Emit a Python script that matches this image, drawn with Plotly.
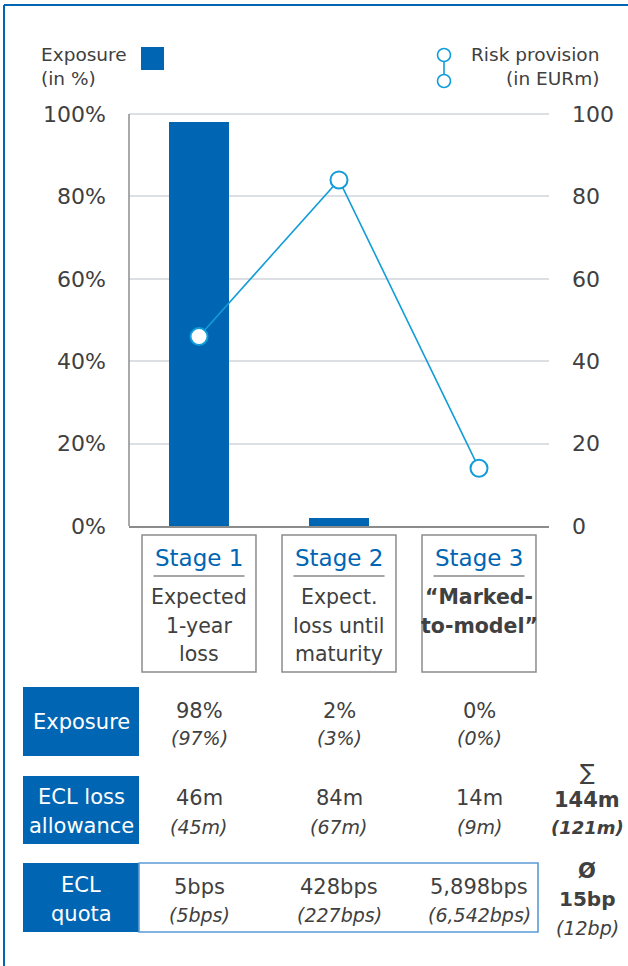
import plotly.graph_objects as go

# ---------------- data ----------------
categories = ["Stage 1", "Stage 2", "Stage 3"]
exposure_pct = [98, 2, 0]
risk_provision = [46, 84, 14]
y_ticks = [0, 20, 40, 60, 80, 100]
y_ticktext_left = ["0%", "20%", "40%", "60%", "80%", "100%"]
y_ticktext_right = ["0", "20", "40", "60", "80", "100"]

stage_desc = [["Expected", "1-year", "loss"],
              ["Expect.", "loss until", "maturity"],
              ["“Marked-", "to-model”"]]
stage_bold = [False, False, True]

row_labels = [["Exposure"], ["ECL loss", "allowance"], ["ECL", "quota"]]
exposure_txt = ["98%", "2%", "0%"]
exposure_prev = ["(97%)", "(3%)", "(0%)"]
ecl_txt = ["46m", "84m", "14m"]
ecl_prev = ["(45m)", "(67m)", "(9m)"]
quota_txt = ["5bps", "428bps", "5,898bps"]
quota_prev = ["(5bps)", "(227bps)", "(6,542bps)"]
ecl_total = ["∑", "144m", "(121m)"]
quota_avg = ["Ø", "15bp", "(12bp)"]

# ---------------- style ----------------
W, H = 628, 966
FONT = "DejaVu Sans"
BLUE = "#0066b3"
LBLUE = "#129dd8"
TXT = "#404040"
GRID = "#dcdfe4"
AXIS = "#8c8c8c"
Y_MAX = 101          # a little head-room so the 100% gridline is drawn
PLOT_BOTTOM, PLOT_100 = 526, 114
plot_top = PLOT_BOTTOM - (PLOT_BOTTOM - PLOT_100) * Y_MAX / 100


def px(x):
    return x / W


def py(y):
    return 1 - y / H


fig = go.Figure()
fig.add_trace(go.Bar(x=categories, y=exposure_pct, marker=dict(color=BLUE, line=dict(width=0)),
                     width=0.435, yaxis="y"))
fig.add_trace(go.Scatter(x=categories, y=risk_provision, yaxis="y2", mode="lines+markers",
                         line=dict(color=LBLUE, width=1.6),
                         marker=dict(symbol="circle", size=17, color="white",
                                     line=dict(color=LBLUE, width=2)),
                         cliponaxis=False))

shapes = []
ann = []


def text(x, y, t, size, color=TXT, xref="paper", xanchor="center", bold=False, italic=False, align="center"):
    if bold:
        t = "<b>" + t + "</b>"
    if italic:
        t = "<i>" + t + "</i>"
    ann.append(dict(x=x, y=py(y), xref=xref, yref="paper", text=t, showarrow=False,
                    xanchor=xanchor, yanchor="middle", align=align,
                    font=dict(family=FONT, size=size, color=color)))


# outer frame
shapes.append(dict(type="line", xref="paper", yref="paper", x0=px(4), x1=1.02, y0=py(5), y1=py(5),
                   line=dict(color=BLUE, width=2)))
shapes.append(dict(type="line", xref="paper", yref="paper", x0=px(4), x1=px(4), y0=py(5), y1=-0.02,
                   line=dict(color=BLUE, width=2)))

# legend
text(px(39), 66, "Exposure<br>(in %)", 18.5, xanchor="left", align="left")
shapes.append(dict(type="rect", xref="paper", yref="paper", x0=px(141), x1=px(164), y0=py(47), y1=py(70),
                   fillcolor=BLUE, line=dict(width=0)))
text(px(601), 66, "Risk provision<br>(in EURm)", 18.5, xanchor="right", align="right")
r = 6.5
for cy in (55, 81):
    shapes.append(dict(type="circle", xref="paper", yref="paper", x0=px(444 - r), x1=px(444 + r),
                       y0=py(cy + r), y1=py(cy - r), fillcolor="white", line=dict(color=LBLUE, width=1.6)))
shapes.append(dict(type="line", xref="paper", yref="paper", x0=px(444), x1=px(444), y0=py(55 + r), y1=py(81 - r),
                   line=dict(color=LBLUE, width=1.6)))

# stage boxes
for i, cat in enumerate(categories):
    shapes.append(dict(type="rect", xref="x", yref="paper", x0=i - 0.407, x1=i + 0.407,
                       y0=py(672), y1=py(535), line=dict(color=AXIS, width=1.5), fillcolor="rgba(0,0,0,0)"))
    shapes.append(dict(type="line", xref="x", yref="paper", x0=i - 0.325, x1=i + 0.325,
                       y0=py(576), y1=py(576), line=dict(color="#a6a6a6", width=2)))
    text(i, 558, cat, 23, color=BLUE, xref="x")
    for j, line in enumerate(stage_desc[i]):
        text(i, 597 + 28.5 * j, line, 20.5, xref="x", bold=stage_bold[i])

# table
rows_y = [(687, 756), (776, 844), (863, 932)]
label_lines_y = [[722], [797, 826], [885, 914]]
for k, (y0, y1) in enumerate(rows_y):
    shapes.append(dict(type="rect", xref="paper", yref="paper", x0=px(23), x1=px(139), y0=py(y1), y1=py(y0),
                       fillcolor=BLUE, line=dict(width=0)))
    for t, ly in zip(row_labels[k], label_lines_y[k]):
        text(px(81), ly, t, 21, color="white")
shapes.append(dict(type="rect", xref="paper", yref="paper", x0=px(139), x1=px(538), y0=py(932), y1=py(863),
                   line=dict(color="#5b9bd5", width=1.6), fillcolor="rgba(0,0,0,0)"))

row_vals = [(exposure_txt, exposure_prev, 711, 738),
            (ecl_txt, ecl_prev, 798, 827),
            (quota_txt, quota_prev, 887, 915)]
for cur, prev, yc, yp in row_vals:
    for i in range(len(categories)):
        text(i, yc, cur[i], 21, xref="x")
        text(i, yp, prev[i], 19, xref="x", italic=True)

text(px(587), 772, ecl_total[0], 22)
text(px(587), 800, ecl_total[1], 21, bold=True)
text(px(587), 827, ecl_total[2], 18, bold=True, italic=True)
text(px(587), 871, quota_avg[0], 21, bold=True)
text(px(587), 899, quota_avg[1], 20, bold=True)
text(px(587), 928, quota_avg[2], 19, italic=True)

fig.update_layout(
    width=W, height=H, autosize=False,
    margin=dict(l=0, r=0, t=0, b=0, pad=0),
    paper_bgcolor="white", plot_bgcolor="white",
    showlegend=False, bargap=0,
    font=dict(family=FONT, color=TXT),
    xaxis=dict(domain=[px(129), px(549)], type="category", categoryorder="array",
               categoryarray=categories, range=[-0.5, 2.5], showticklabels=False,
               showgrid=False, zeroline=False, showline=True, linecolor=AXIS, linewidth=2, ticks=""),
    yaxis=dict(domain=[py(PLOT_BOTTOM), py(plot_top)], range=[0, Y_MAX], tickmode="array", tickvals=y_ticks,
               ticktext=y_ticktext_left, automargin=False,
               showgrid=True, gridcolor=GRID, gridwidth=1.5, zeroline=False,
               showline=False, ticks="", ticklabelstandoff=22,
               tickfont=dict(family=FONT, size=22, color=TXT)),
    yaxis2=dict(domain=[py(PLOT_BOTTOM), py(plot_top)], range=[0, Y_MAX], tickmode="array", tickvals=y_ticks,
                ticktext=y_ticktext_right, overlaying="y", side="right", automargin=False,
                showgrid=False, zeroline=False, showline=False, ticks="", ticklabelstandoff=22,
                anchor="x", tickfont=dict(family=FONT, size=22, color=TXT)),
    shapes=shapes, annotations=ann,
)

# left axis line from 0 to the 100% tick
fig.add_shape(type="line", xref="x domain", yref="y", x0=0, x1=0, y0=y_ticks[0], y1=y_ticks[-1],
              line=dict(color=AXIS, width=1.5))

fig.write_html(
    "out.html",
    config={"displayModeBar": False},
    post_script=(
        "document.documentElement.style.margin='0';document.body.style.margin='0';"
        "document.body.style.overflow='hidden';"
        "var d=document.getElementById('{plot_id}');d.style.position='fixed';"
        "d.style.top='0px';d.style.left='0px';"
    ),
)
